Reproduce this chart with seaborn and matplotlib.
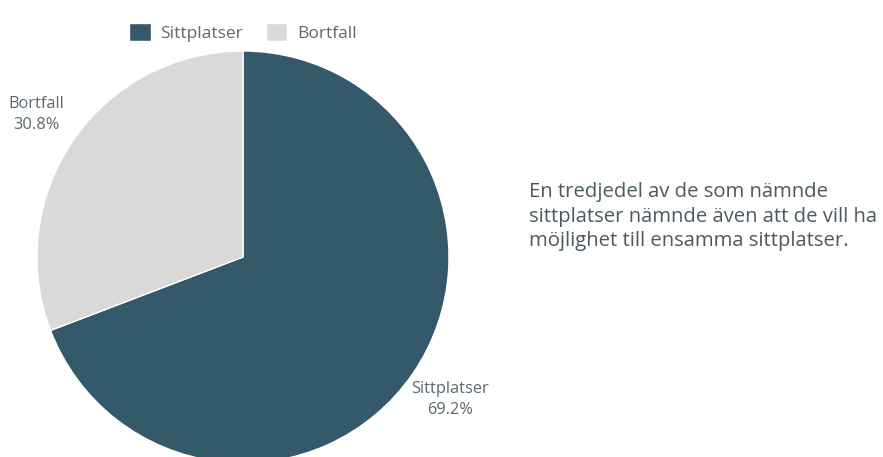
import matplotlib.pyplot as plt
import seaborn as sns

sns.set_theme(style="white")
plt.rcParams['font.family'] = ['Open Sans', 'DejaVu Sans']

# data
categories = ["Sittplatser", "Bortfall"]
shares = [69.2, 30.8]
colors = ["#34596a", "#d9d9d9"]
note = ("En tredjedel av de som nämnde\n"
        "sittplatser nämnde även att de vill ha\n"
        "möjlighet till ensamma sittplatser.")

fig = plt.figure(figsize=(8.83, 4.57), dpi=100)
ax = fig.add_axes([37 / 883, -6 / 457, 412 / 883, 412 / 457])

labels = [f"{c}\n{v:.1f}%" for c, v in zip(categories, shares)]
wedges, texts = ax.pie(shares, labels=labels, colors=colors, startangle=90,
                       counterclock=False, labeldistance=1.22,
                       textprops=dict(color="#5d6970", fontsize=11.8,
                                      linespacing=1.45))
for t in texts:
    t.set_ha("center")
    t.set_va("center")
ax.set_xlim(-1, 1)
ax.set_ylim(-1, 1)
ax.set_aspect("equal")
ax.axis("off")

leg = ax.legend(wedges, categories, loc="lower center", bbox_to_anchor=(0.5, 0.985),
                ncol=2, frameon=False, handlelength=1.25, handleheight=1.25,
                columnspacing=1.3, handletextpad=0.55, fontsize=12.5)
for t in leg.get_texts():
    t.set_color("#5d6970")

fig.text(529 / 883, 1 - 217 / 457, note, ha="left", va="center",
         fontsize=14.6, color="#4b5a61", linespacing=1.3)

fig.savefig("out.png", dpi=100)
